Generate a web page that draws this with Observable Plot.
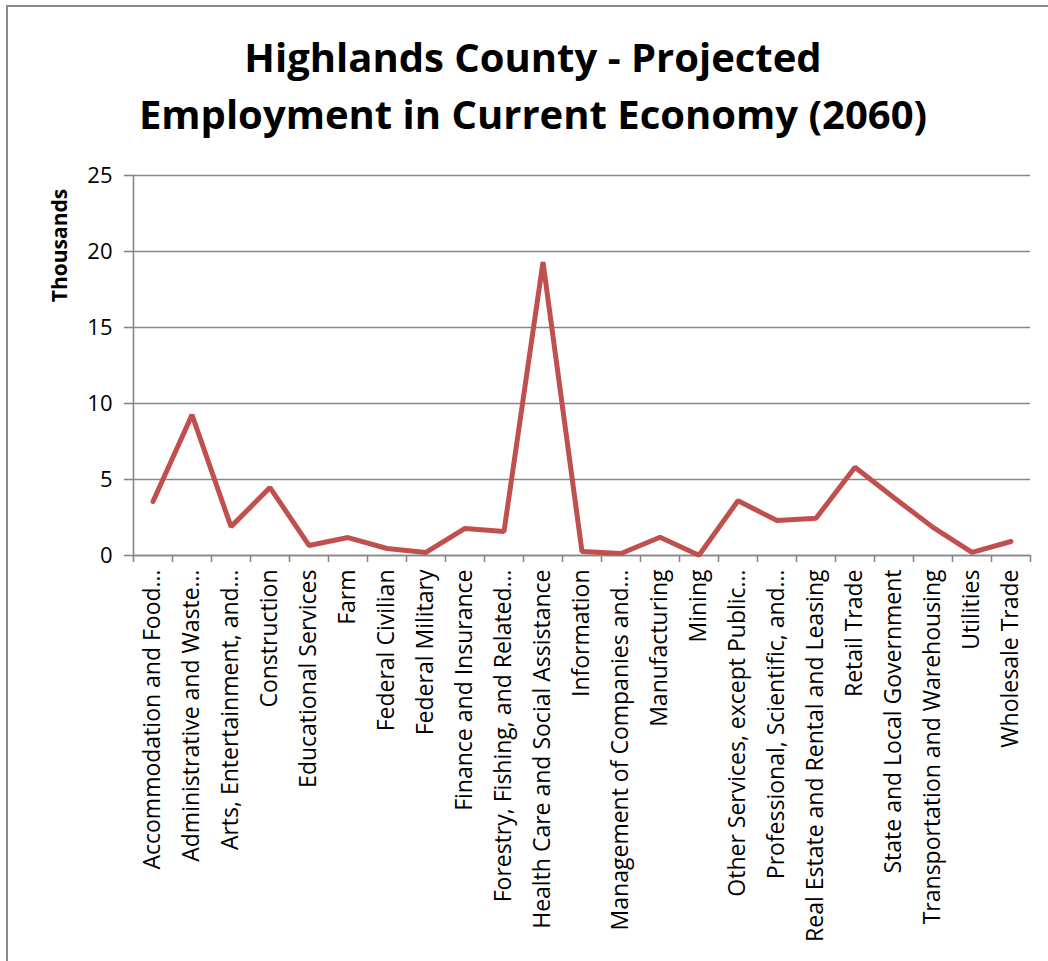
<!DOCTYPE html>
<html>
<head>
<meta charset="utf-8">
<script src="https://cdn.jsdelivr.net/npm/d3@7"></script>
<script src="https://cdn.jsdelivr.net/npm/@observablehq/plot@0.6"></script>
<style>
  html, body { margin: 0; padding: 0; background: #fff; }
  #frame { position: absolute; left: 6px; top: 5px; width: 1100px; height: 1000px; border-left: 2px solid #8a8a8a; border-top: 2px solid #8a8a8a; box-sizing: border-box; }
  #wrap { position: absolute; left: 0; top: 0; width: 1048px; height: 961px; }
  #title { position: absolute; left: 0; top: 28px; width: 1066px; text-align: center; font-family: "Open Sans", sans-serif; font-weight: bold; font-size: 40px; line-height: 57px; color: #000; }
  #chart { position: absolute; left: 0; top: 160px; }
</style>
</head>
<body>
<div id="frame"></div>
<div id="wrap">
  <div id="title">Highlands County - Projected<br>Employment in Current Economy (2060)</div>
  <div id="chart"></div>
</div>
<script>
const categories = [
  "Accommodation and Food…",
  "Administrative and Waste…",
  "Arts, Entertainment, and…",
  "Construction",
  "Educational Services",
  "Farm",
  "Federal Civilian",
  "Federal Military",
  "Finance and Insurance",
  "Forestry, Fishing, and Related…",
  "Health Care and Social Assistance",
  "Information",
  "Management of Companies and…",
  "Manufacturing",
  "Mining",
  "Other Services, except Public…",
  "Professional, Scientific, and…",
  "Real Estate and Rental and Leasing",
  "Retail Trade",
  "State and Local Government",
  "Transportation and Warehousing",
  "Utilities",
  "Wholesale Trade"
];
const values = [3.55, 9.25, 1.9, 4.47, 0.66, 1.18, 0.46, 0.2, 1.78, 1.58, 19.3, 0.26, 0.13, 1.2, 0.02, 3.6, 2.3, 2.45, 5.8, 3.8, 1.85, 0.2, 0.92];
const yTicks = [0, 5, 10, 15, 20, 25];

const data = categories.map((c, i) => ({idx: i + 0.5, cat: c, value: values[i]}));
const boundaries = d3.range(categories.length + 1);
const centers = data.map(d => d.idx);

const gray = "#868686";
const font = "'Open Sans', sans-serif";

const chart = Plot.plot({
  width: 1048,
  height: 801,
  marginTop: 15,
  marginBottom: 406,
  marginLeft: 133,
  marginRight: 18,
  style: {fontFamily: font, fontSize: "19px", color: "#000", background: "transparent", overflow: "visible"},
  x: {domain: [0, categories.length]},
  y: {domain: [0, 25]},
  marks: [
    Plot.gridY(yTicks, {stroke: gray, strokeOpacity: 1, strokeWidth: 1.6}),
    Plot.axisY(yTicks, {tickSize: 9, tickPadding: 12, stroke: gray, strokeWidth: 1.6, fontSize: 22, label: null}),
    Plot.text(["Thousands"], {frameAnchor: "left", textAnchor: "middle", dx: -73, dy: -120, rotate: -90, fontWeight: "bold", fontSize: 21}),
    Plot.ruleY([0], {stroke: gray, strokeWidth: 1.6}),
    Plot.frame({anchor: "left", stroke: gray, strokeWidth: 1.6}),
    Plot.axisX(boundaries, {tickSize: 7, stroke: gray, strokeWidth: 1.6, tickFormat: () => "", label: null}),
    Plot.axisX(centers, {tickSize: 0, tickPadding: 14, tickRotate: -90, tickFormat: d => categories[Math.round(d - 0.5)], fontSize: 23, label: null, lineWidth: 100}),
    Plot.line(data, {x: "idx", y: "value", stroke: "#C0504D", strokeWidth: 5, strokeLinejoin: "miter", strokeLinecap: "round"})
  ]
});
document.getElementById("chart").appendChild(chart);
</script>
</body>
</html>
